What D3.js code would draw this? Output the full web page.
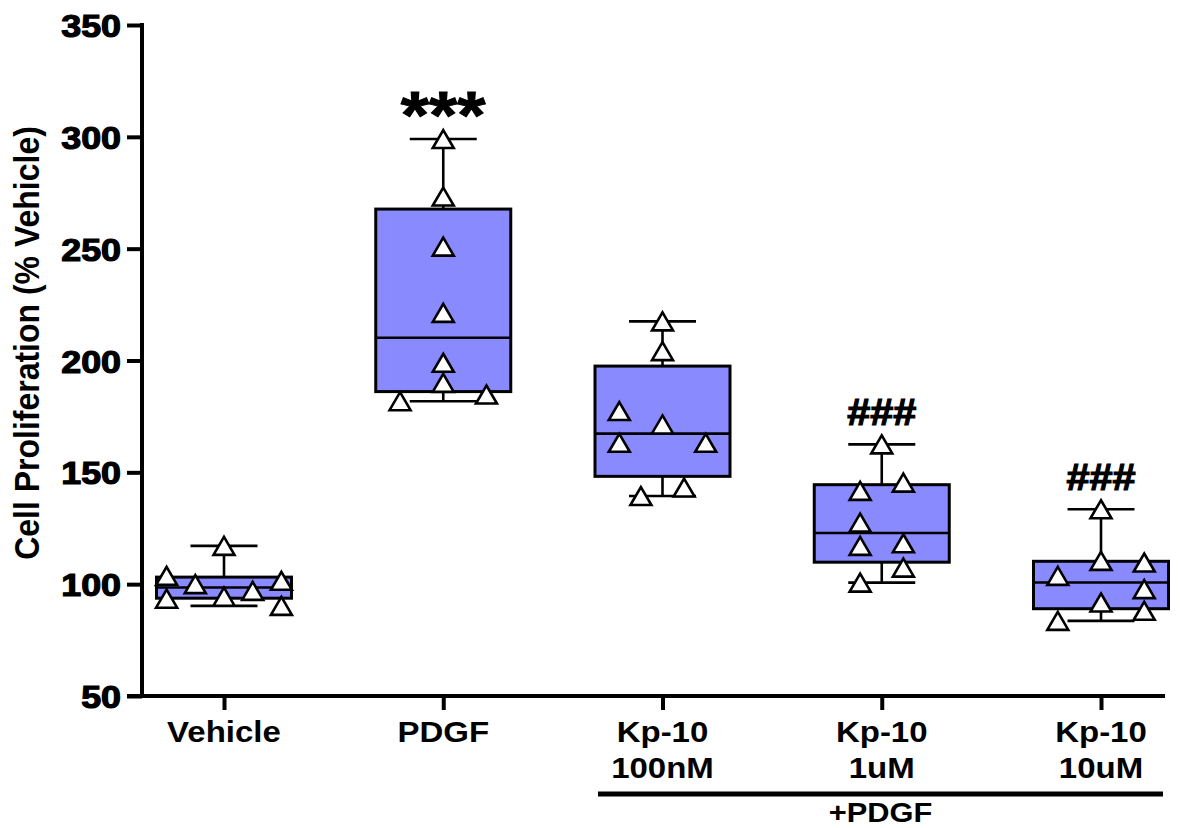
<!DOCTYPE html>
<html>
<head>
<meta charset="utf-8">
<script src="https://cdn.jsdelivr.net/npm/d3@7"></script>
<style>
  html, body { margin: 0; padding: 0; background: #fff; }
  svg { display: block; }
  text { font-family: "Liberation Sans", Arial, sans-serif; font-weight: bold; fill: #000; }
</style>
</head>
<body>
<svg id="chart" width="1180" height="828"></svg>
<script>
// Treatment groups (first line / second line of each axis label)
const groups = ["Vehicle", "PDGF", "Kp-10 100nM", "Kp-10 1uM", "Kp-10 10uM"];
const labelLines = [["Vehicle"], ["PDGF"], ["Kp-10", "100nM"], ["Kp-10", "1uM"], ["Kp-10", "10uM"]];

// Individual replicates, % of vehicle
const vehicleValues = [103.7, 93.5, 100.0, 117.1, 94.4, 97.0, 101.5, 90.3];
const pdgfValues    = [299.0, 273.3, 250.9, 221.3, 199.0, 190.0, 181.8, 184.8];
const kp100nMValues = [217.5, 204.2, 171.4, 177.4, 163.2, 163.2, 143.2, 139.4];
const kp1uMValues   = [162.5, 145.4, 118.3, 107.4, 141.7, 127.5, 117.1, 100.7];
const kp10uMValues  = [133.5, 110.4, 91.8, 109.7, 97.8, 88.1, 103.7, 83.6];

// Column slot of each replicate within its box (scatter lanes)
const vehicleSlots = [-2, -2, -1, 0, 0, 1, 2, 2];
const pdgfSlots    = [0, 0, 0, 0, 0, 0, -2, 2];
const kp100nMSlots = [0, 0, 0, -2, -2, 2, 1, -1];
const kp1uMSlots   = [0, 1, 1, 1, -1, -1, -1, -1];
const kp10uMSlots  = [0, 0, 0, 2, 2, 2, -2, -2];

// Significance marks above groups
const marks = ["", "***", "", "###", "###"];

// Axis ticks
const yTicks = [50, 100, 150, 200, 250, 300, 350];
const bracketLabel = "+PDGF";
const yTitle = "Cell Proliferation (% Vehicle)";

const seriesValues = [vehicleValues, pdgfValues, kp100nMValues, kp1uMValues, kp10uMValues];
const seriesSlots = [vehicleSlots, pdgfSlots, kp100nMSlots, kp1uMSlots, kp10uMSlots];

// ---- layout ----
const svg = d3.select("#chart");
const axisX = 142, axisTop = 25, axisBottom = 696, axisRight = 1165;
const boxFill = "#8a8aff";
const boxHalf = 67.5, capHalf = 33.5;
const laneGap = [28.7, 21.6, 21.6, 21.6, 21.6];

const x = d3.scalePoint().domain(groups).range([224, 1101]);
const y = d3.scaleLinear().domain([50, 350]).range([axisBottom, axisTop]);

// widen a text element horizontally, keeping its anchor
function widen(sel, k) {
  sel.each(function () {
    const w = this.getComputedTextLength();
    d3.select(this).attr("textLength", w * k).attr("lengthAdjust", "spacingAndGlyphs");
  });
}

// quartiles with the (n+1)p rule
function quart(sorted, p) {
  const n = sorted.length;
  const h = (n + 1) * p;
  const lo = Math.floor(h), f = h - lo;
  if (lo < 1) return sorted[0];
  if (lo >= n) return sorted[n - 1];
  return sorted[lo - 1] + f * (sorted[lo] - sorted[lo - 1]);
}

const stats = seriesValues.map((vals, i) => {
  const s = vals.slice().sort(d3.ascending);
  return {
    group: groups[i],
    min: s[0], max: s[s.length - 1],
    q1: quart(s, 0.25), med: quart(s, 0.5), q3: quart(s, 0.75)
  };
});

// ---- boxes and whiskers ----
const gBox = svg.append("g");
stats.forEach(st => {
  const cx = x(st.group);
  const g = gBox.append("g");
  g.append("line").attr("x1", cx).attr("x2", cx).attr("y1", y(st.q3)).attr("y2", y(st.max))
    .attr("stroke", "#000").attr("stroke-width", 2.6);
  g.append("line").attr("x1", cx).attr("x2", cx).attr("y1", y(st.q1)).attr("y2", y(st.min))
    .attr("stroke", "#000").attr("stroke-width", 2.6);
  [st.max, st.min].forEach(v => {
    g.append("line").attr("x1", cx - capHalf).attr("x2", cx + capHalf).attr("y1", y(v)).attr("y2", y(v))
      .attr("stroke", "#000").attr("stroke-width", 2.6);
  });
  g.append("rect")
    .attr("x", cx - boxHalf).attr("width", boxHalf * 2)
    .attr("y", y(st.q3)).attr("height", y(st.q1) - y(st.q3))
    .attr("fill", boxFill).attr("stroke", "#000").attr("stroke-width", 3);
  g.append("line").attr("x1", cx - boxHalf).attr("x2", cx + boxHalf).attr("y1", y(st.med)).attr("y2", y(st.med))
    .attr("stroke", "#000").attr("stroke-width", 2.6);
});

// ---- replicate markers (open triangles) ----
const triW = 21, triH = 18;
const triPath = `M0,${-triH / 2}L${triW / 2},${triH / 2}L${-triW / 2},${triH / 2}Z`;
const pts = [];
seriesValues.forEach((vals, i) => {
  vals.forEach((v, j) => pts.push({ g: groups[i], v, slot: seriesSlots[i][j], gap: laneGap[i] }));
});
svg.append("g").selectAll("path").data(pts).join("path")
  .attr("d", triPath)
  .attr("transform", d => `translate(${x(d.g) + d.slot * d.gap},${y(d.v)})`)
  .attr("fill", "#fff").attr("stroke", "#000").attr("stroke-width", 2.6).attr("stroke-linejoin", "miter");

// ---- y axis ----
const yAxis = svg.append("g").attr("transform", `translate(${axisX},0)`)
  .call(d3.axisLeft(y).tickValues(yTicks).tickSize(15).tickPadding(6).tickFormat(d3.format("d")));
yAxis.select(".domain").remove();
yAxis.selectAll(".tick line").attr("stroke", "#000").attr("stroke-width", 4);
yAxis.selectAll(".tick text").attr("font-size", 32).attr("font-family", null)
  .attr("fill", "#000").attr("stroke", "#000").attr("stroke-width", 1.2)
  .attr("dy", "0.36em").call(widen, 1.12);
svg.append("line").attr("x1", axisX).attr("x2", axisX).attr("y1", axisTop - 2).attr("y2", axisBottom + 2)
  .attr("stroke", "#000").attr("stroke-width", 4);

// ---- x axis ----
svg.append("line").attr("x1", axisX - 15).attr("x2", axisRight).attr("y1", axisBottom).attr("y2", axisBottom)
  .attr("stroke", "#000").attr("stroke-width", 4);
const xAxis = svg.append("g").attr("transform", `translate(0,${axisBottom})`)
  .call(d3.axisBottom(x).tickSize(14).tickFormat(""));
xAxis.select(".domain").remove();
xAxis.selectAll(".tick line").attr("stroke", "#000").attr("stroke-width", 4);

// category labels
groups.forEach((gname, i) => {
  labelLines[i].forEach((line, k) => {
    svg.append("text").attr("x", x(gname)).attr("y", 742 + k * 36)
      .attr("text-anchor", "middle").attr("font-size", 30).text(line).call(widen, 1.1);
  });
});

// treatment bracket
svg.append("line").attr("x1", 598).attr("x2", 1163).attr("y1", 794).attr("y2", 794)
  .attr("stroke", "#000").attr("stroke-width", 5);
svg.append("text").attr("x", (598 + 1163) / 2).attr("y", 822)
  .attr("text-anchor", "middle").attr("font-size", 28).text(bracketLabel).call(widen, 1.1);

// y axis title
svg.append("text")
  .attr("transform", "translate(39,343) scale(1.1,1) rotate(-90)")
  .attr("text-anchor", "middle").attr("font-size", 32).text(yTitle);

// significance marks
stats.forEach((st, i) => {
  if (!marks[i]) return;
  const star = marks[i].startsWith("*");
  svg.append("text").attr("x", x(st.group))
    .attr("y", star ? y(st.max) - 1 : y(st.max) - 19)
    .attr("text-anchor", "middle")
    .attr("font-size", star ? 66 : 37)
    .attr("stroke", "#000").attr("stroke-width", star ? 1 : 1.2)
    .text(marks[i]).call(widen, star ? 1.1 : 1.12);
});
</script>
</body>
</html>
